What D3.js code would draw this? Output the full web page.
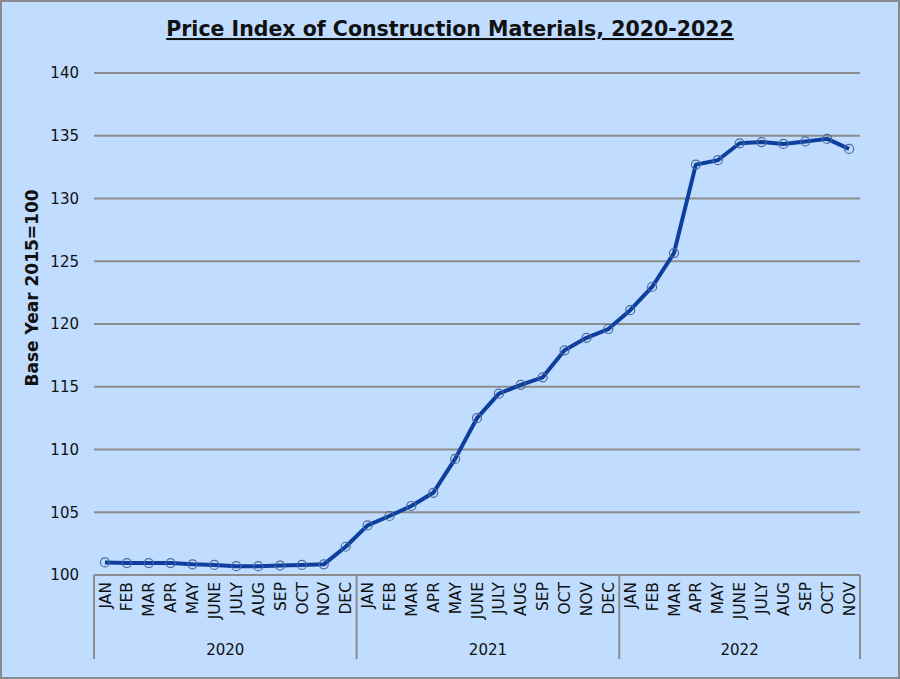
<!DOCTYPE html>
<html>
<head>
<meta charset="utf-8">
<script src="https://cdn.jsdelivr.net/npm/d3@7"></script>
<style>
  html, body { margin: 0; padding: 0; background: #c0dcfe; }
  svg { display: block; font-family: "DejaVu Sans", Verdana, sans-serif; }
</style>
</head>
<body>
<div id="chart"></div>
<script>
// Data
const years = ['2020', '2021', '2022'];
const months2020 = ['JAN', 'FEB', 'MAR', 'APR', 'MAY', 'JUNE', 'JULY', 'AUG', 'SEP', 'OCT', 'NOV', 'DEC'];
const months2021 = ['JAN', 'FEB', 'MAR', 'APR', 'MAY', 'JUNE', 'JULY', 'AUG', 'SEP', 'OCT', 'NOV', 'DEC'];
const months2022 = ['JAN', 'FEB', 'MAR', 'APR', 'MAY', 'JUNE', 'JULY', 'AUG', 'SEP', 'OCT', 'NOV'];
const values2020 = [101.0, 100.95, 100.95, 100.95, 100.85, 100.8, 100.7, 100.7, 100.75, 100.8, 100.85, 102.25];
const values2021 = [103.95, 104.7, 105.5, 106.55, 109.25, 112.5, 114.45, 115.15, 115.75, 117.9, 118.9, 119.6];
const values2022 = [121.1, 122.95, 125.65, 132.7, 133.05, 134.4, 134.5, 134.35, 134.55, 134.75, 133.95];
const yTicks = [100, 105, 110, 115, 120, 125, 130, 135, 140];

// Build rows
const data = [];
[months2020, months2021, months2022].forEach((months, gi) => {
    const vals = [values2020, values2021, values2022][gi];
    months.forEach((m, i) => data.push({ year: years[gi], month: m, key: years[gi] + '-' + m, value: vals[i] }));
});

const W = 900, H = 679;
const plot = { left: 94, right: 860, top: 73, bottom: 575 };
const font = '"DejaVu Sans", Verdana, sans-serif';

const svg = d3.select('#chart').append('svg')
    .attr('width', W)
    .attr('height', H);

// Background and frame
svg.append('rect')
    .attr('x', 1).attr('y', 1)
    .attr('width', W - 2).attr('height', H - 2)
    .attr('fill', '#c0dcfe')
    .attr('stroke', '#8a8a8a')
    .attr('stroke-width', 2);

// Scales
const xScale = d3.scaleBand()
    .domain(data.map(d => d.key))
    .range([plot.left, plot.right])
    .padding(0);

const yScale = d3.scaleLinear()
    .domain([100, 140])
    .range([plot.bottom, plot.top]);

// Grid lines
svg.append('g')
    .selectAll('line')
    .data(yTicks.filter(t => t > 100))
    .enter()
    .append('line')
    .attr('x1', plot.left)
    .attr('x2', plot.right)
    .attr('y1', d => yScale(d))
    .attr('y2', d => yScale(d))
    .attr('stroke', '#8c8c8c')
    .attr('stroke-width', 2);

// Y axis labels
const yAxis = svg.append('g')
    .attr('transform', `translate(${plot.left},0)`)
    .call(d3.axisLeft(yScale).tickValues(yTicks).tickSize(0).tickPadding(15).tickFormat(d3.format('d')));
yAxis.select('.domain').remove();
yAxis.selectAll('text')
    .attr('fill', '#111')
    .style('font-size', '15px')
    .style('font-family', font);

// X axis line
svg.append('line')
    .attr('x1', plot.left).attr('x2', plot.right)
    .attr('y1', plot.bottom).attr('y2', plot.bottom)
    .attr('stroke', '#8c8c8c')
    .attr('stroke-width', 2);

// Month labels
const xAxis = svg.append('g')
    .attr('transform', `translate(0,${plot.bottom})`)
    .call(d3.axisBottom(xScale).tickSize(0).tickFormat(k => k.split('-')[1]));
xAxis.select('.domain').remove();
xAxis.selectAll('text')
    .attr('transform', 'rotate(-90)')
    .attr('x', -7)
    .attr('y', 0)
    .attr('dy', '0.36em')
    .style('text-anchor', 'end')
    .style('font-size', '15.5px')
    .style('font-family', font)
    .attr('fill', '#111');

// Year group dividers and labels
const groupEdges = years.map(y => {
    const keys = data.filter(d => d.year === y).map(d => d.key);
    return { year: y, x0: xScale(keys[0]), x1: xScale(keys[keys.length - 1]) + xScale.bandwidth() };
});
const dividerX = [groupEdges[0].x0].concat(groupEdges.map(g => g.x1));
svg.append('g')
    .selectAll('line')
    .data(dividerX)
    .enter()
    .append('line')
    .attr('x1', d => d).attr('x2', d => d)
    .attr('y1', plot.bottom).attr('y2', 659)
    .attr('stroke', '#8c8c8c')
    .attr('stroke-width', 2);

svg.append('g')
    .selectAll('text')
    .data(groupEdges)
    .enter()
    .append('text')
    .attr('x', d => (d.x0 + d.x1) / 2)
    .attr('y', 655)
    .attr('text-anchor', 'middle')
    .style('font-size', '15px')
    .attr('fill', '#111')
    .text(d => d.year);

// Line
const line = d3.line()
    .x(d => xScale(d.key) + xScale.bandwidth() / 2)
    .y(d => yScale(d.value));

svg.append('path')
    .datum(data)
    .attr('fill', 'none')
    .attr('stroke', '#0d3f9e')
    .attr('stroke-width', 4)
    .attr('stroke-linejoin', 'round')
    .attr('d', line);

// Markers
svg.append('g')
    .selectAll('circle')
    .data(data)
    .enter()
    .append('circle')
    .attr('cx', d => xScale(d.key) + xScale.bandwidth() / 2)
    .attr('cy', d => yScale(d.value))
    .attr('r', 4.5)
    .attr('fill', 'none')
    .attr('stroke', '#4a6a9c')
    .attr('stroke-width', 1.2);

// Title
svg.append('text')
    .attr('x', 450)
    .attr('y', 36)
    .attr('text-anchor', 'middle')
    .style('font-size', '20.5px')
    .style('font-weight', 'bold')
    .style('text-decoration', 'underline')
    .attr('fill', '#111')
    .text('Price Index of Construction Materials, 2020-2022');

// Y axis title
svg.append('text')
    .attr('transform', 'rotate(-90)')
    .attr('x', -288)
    .attr('y', 38)
    .attr('text-anchor', 'middle')
    .style('font-size', '17px')
    .style('font-weight', 'bold')
    .attr('fill', '#111')
    .text('Base Year 2015=100');
</script>
</body>
</html>
